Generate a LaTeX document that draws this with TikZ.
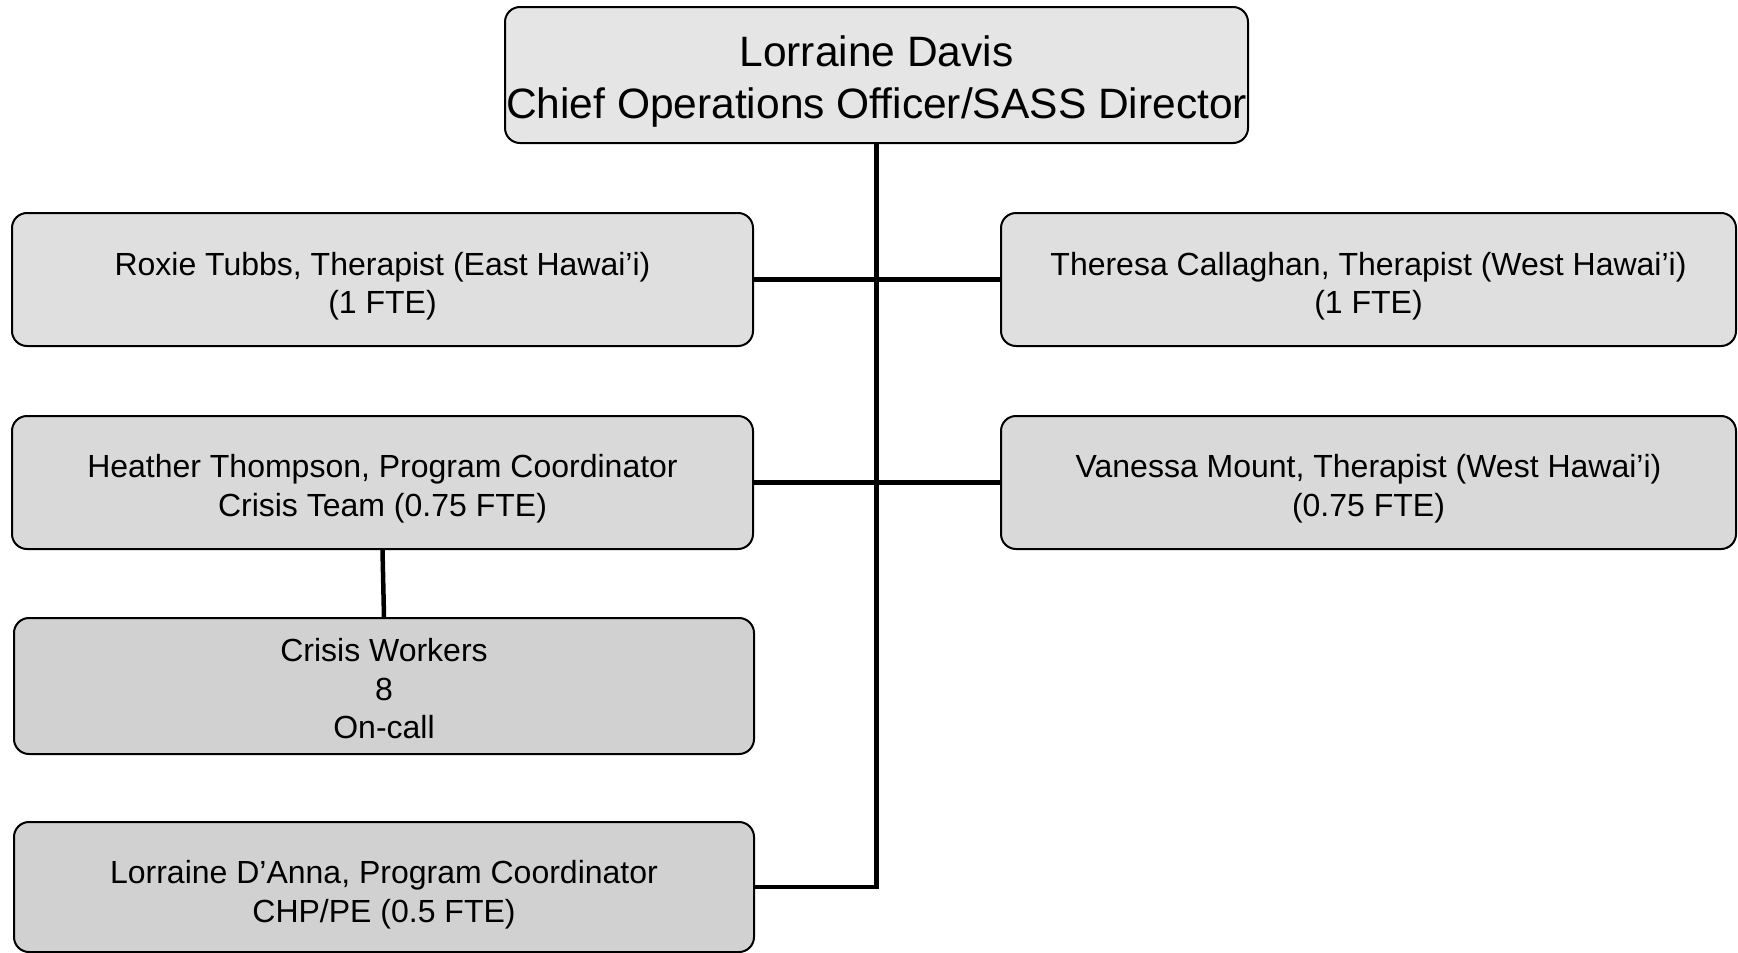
\documentclass[tikz,border=0pt]{standalone}
\usepackage{fontspec}
\setmainfont{Liberation Sans}
\begin{document}
\begin{tikzpicture}[x=1pt,y=-1pt,
  box/.style={draw=black, line width=2pt, rounded corners=15pt, inner sep=0pt},
  lightbox/.style={box, fill=gray!25},
  midbox/.style={box, fill=gray!30},
  darkbox/.style={box, fill=gray!36},
  txt/.style={align=center, inner sep=0pt, font=\fontsize{32}{38.5}\selectfont},
  bigtxt/.style={txt, font=\fontsize{42.5}{52}\selectfont},
  link/.style={draw=black, line width=4.5pt}]
\useasboundingbox (0,0) rectangle (1738,953);
\fill[white] (0,0) rectangle (1738,953);

% director
\node[box, fill=gray!20, minimum width=743pt, minimum height=136pt,
  label={[bigtxt, yshift=-6.5pt]center:{Lorraine Davis\\Chief Operations Officer/SASS Director}}]
  (top) at (876.5,75) {};

% left column
\node[lightbox, minimum width=741pt, minimum height=133pt,
  label={[txt, yshift=-6.5pt]center:{Roxie Tubbs, Therapist (East Hawai'i)\\(1 FTE)}}]
  (roxie) at (382.5,279.5) {};
\node[midbox, minimum width=741pt, minimum height=133pt,
  label={[txt, yshift=-6pt]center:{Heather Thompson, Program Coordinator\\Crisis Team (0.75 FTE)}}]
  (heather) at (382.5,482.5) {};
\node[darkbox, minimum width=740pt, minimum height=136pt,
  label={[txt, yshift=-3pt]center:{Crisis Workers\\8\\On-call}}]
  (crisis) at (384,686) {};
\node[darkbox, minimum width=740pt, minimum height=130pt,
  label={[txt, yshift=-7.5pt]center:{Lorraine D'Anna, Program Coordinator\\CHP/PE (0.5 FTE)}}]
  (danna) at (384,887) {};

% right column
\node[lightbox, minimum width=735pt, minimum height=133pt,
  label={[txt, yshift=-6.5pt]center:{Theresa Callaghan, Therapist (West Hawai'i)\\(1 FTE)}}]
  (theresa) at (1368.5,279.5) {};
\node[midbox, minimum width=735pt, minimum height=133pt,
  label={[txt, yshift=-6pt]center:{Vanessa Mount, Therapist (West Hawai'i)\\(0.75 FTE)}}]
  (vanessa) at (1368.5,482.5) {};

% reporting lines
\draw[link] (top.south) |- (danna.east);
\draw[link] (roxie.east) -- (theresa.west);
\draw[link] (heather.east) -- (vanessa.west);
\draw[link] (heather.south) -- (crisis.north);
\end{tikzpicture}
\end{document}
